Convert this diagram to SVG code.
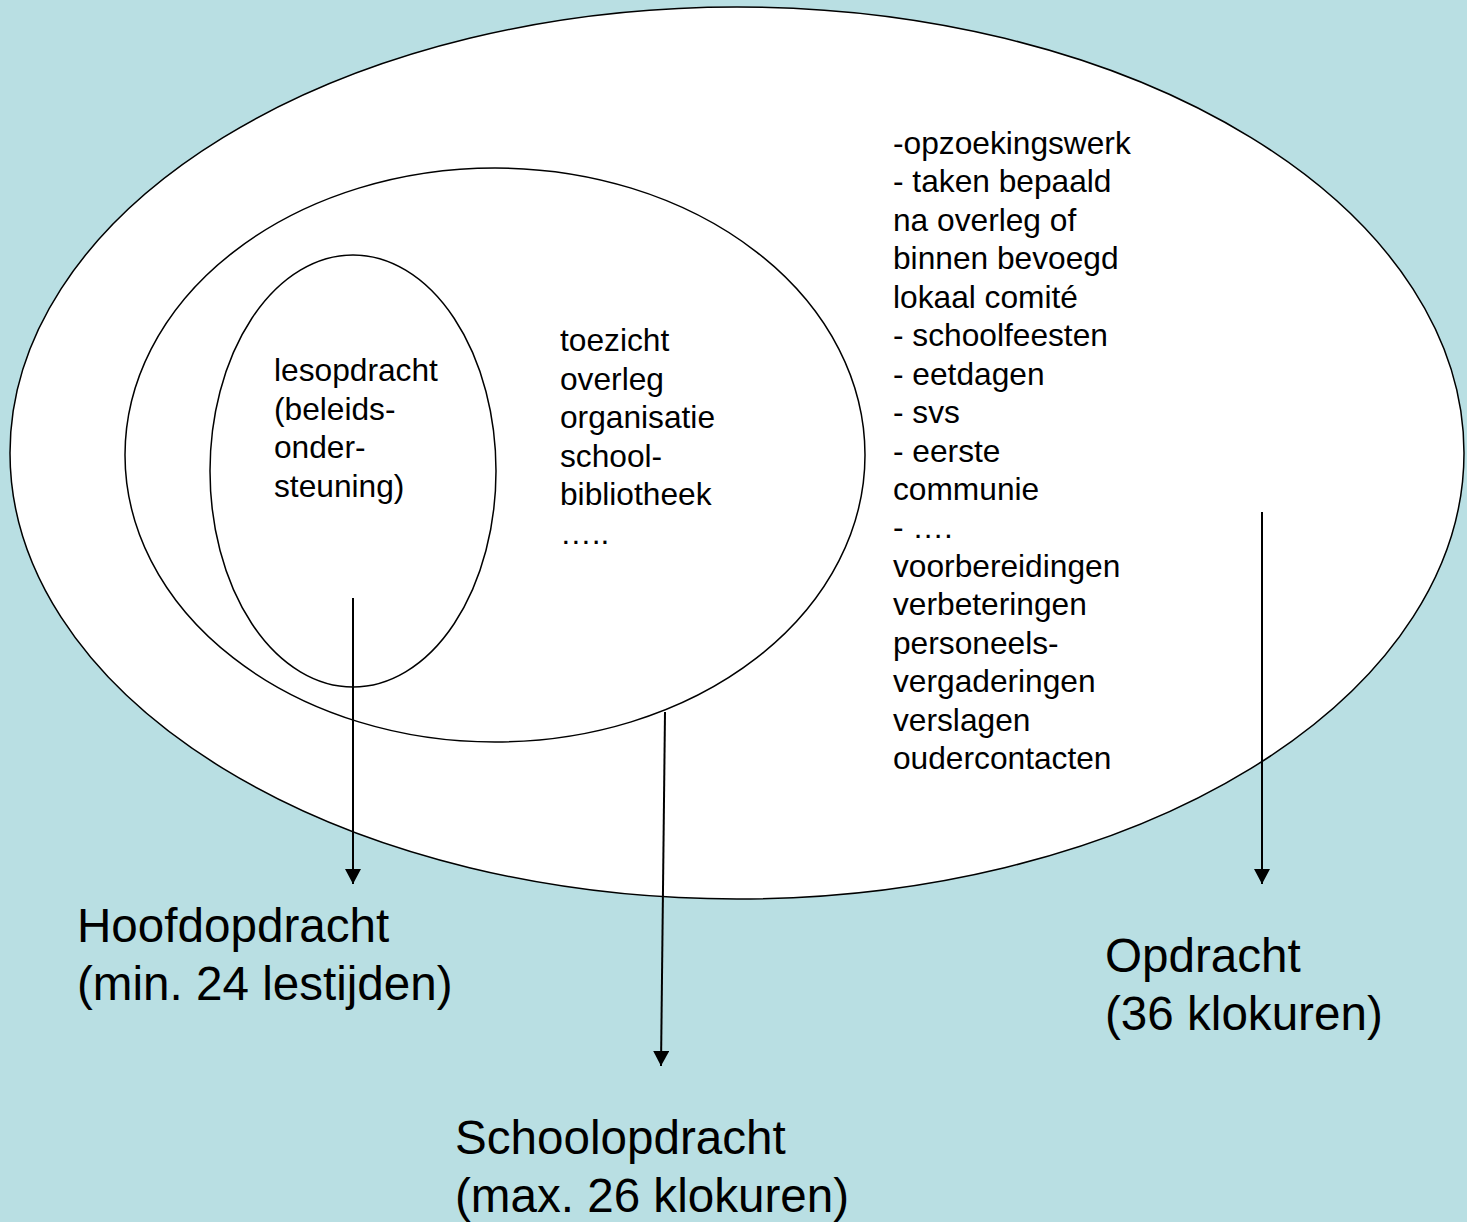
<svg xmlns="http://www.w3.org/2000/svg" width="1467" height="1222" viewBox="0 0 1467 1222">
<style>
.el{fill:#ffffff;stroke:#000;stroke-width:1.5}
.in{fill:none;stroke:#000;stroke-width:1.5}
.t{font-family:"Liberation Sans",Arial,sans-serif;font-size:31.7px;fill:#000}
.b{font-family:"Liberation Sans",Arial,sans-serif;font-size:47.6px;fill:#000}
.c{stroke:#000;stroke-width:2;fill:none}
</style>
<defs>
<marker id="ah" markerUnits="userSpaceOnUse" markerWidth="18" markerHeight="18" refX="15" refY="8" orient="auto">
<path d="M0,0 L15,8 L0,16 Z" fill="#000"/>
</marker>
</defs>
<rect width="1467" height="1222" fill="#B9DFE3"/>
<g id="opdracht">
<ellipse class="el" cx="737" cy="453" rx="727" ry="446"/>
<text class="t" x="893" y="154">-opzoekingswerk</text>
<text class="t" x="893" y="192.4">- taken bepaald</text>
<text class="t" x="893" y="230.9">na overleg of</text>
<text class="t" x="893" y="269.3">binnen bevoegd</text>
<text class="t" x="893" y="307.8">lokaal comité</text>
<text class="t" x="893" y="346.2">- schoolfeesten</text>
<text class="t" x="893" y="384.6">- eetdagen</text>
<text class="t" x="893" y="423.1">- svs</text>
<text class="t" x="893" y="461.5">- eerste</text>
<text class="t" x="893" y="500">communie</text>
<text class="t" x="893" y="538.4">- ….</text>
<text class="t" x="893" y="576.8">voorbereidingen</text>
<text class="t" x="893" y="615.3">verbeteringen</text>
<text class="t" x="893" y="653.7">personeels-</text>
<text class="t" x="893" y="692.2">vergaderingen</text>
<text class="t" x="893" y="730.6">verslagen</text>
<text class="t" x="893" y="769">oudercontacten</text>
</g>
<g id="schoolopdracht">
<ellipse class="in" cx="495" cy="455" rx="370" ry="287"/>
<text class="t" x="560" y="351">toezicht</text>
<text class="t" x="560" y="389.5">overleg</text>
<text class="t" x="560" y="428">organisatie</text>
<text class="t" x="560" y="466.5">school-</text>
<text class="t" x="560" y="505">bibliotheek</text>
<text class="t" x="560" y="543.5">…..</text>
</g>
<g id="hoofdopdracht">
<ellipse class="in" cx="353" cy="471" rx="143" ry="216"/>
<text class="t" x="274" y="381">lesopdracht</text>
<text class="t" x="274" y="419.5">(beleids-</text>
<text class="t" x="274" y="458">onder-</text>
<text class="t" x="274" y="496.5">steuning)</text>
</g>
<g id="connectors">
<line class="c" x1="353" y1="598" x2="353" y2="884" marker-end="url(#ah)"/>
<line class="c" x1="665" y1="712" x2="661" y2="1066" marker-end="url(#ah)"/>
<line class="c" x1="1262" y1="512" x2="1262" y2="884" marker-end="url(#ah)"/>
</g>
<g id="label-hoofdopdracht">
<text class="b" x="77" y="942">Hoofdopdracht</text>
<text class="b" x="77" y="1000">(min. 24 lestijden)</text>
</g>
<g id="label-schoolopdracht">
<text class="b" x="455" y="1154">Schoolopdracht</text>
<text class="b" x="455" y="1212">(max. 26 klokuren)</text>
</g>
<g id="label-opdracht">
<text class="b" x="1105" y="972">Opdracht</text>
<text class="b" x="1105" y="1030">(36 klokuren)</text>
</g>
</svg>
